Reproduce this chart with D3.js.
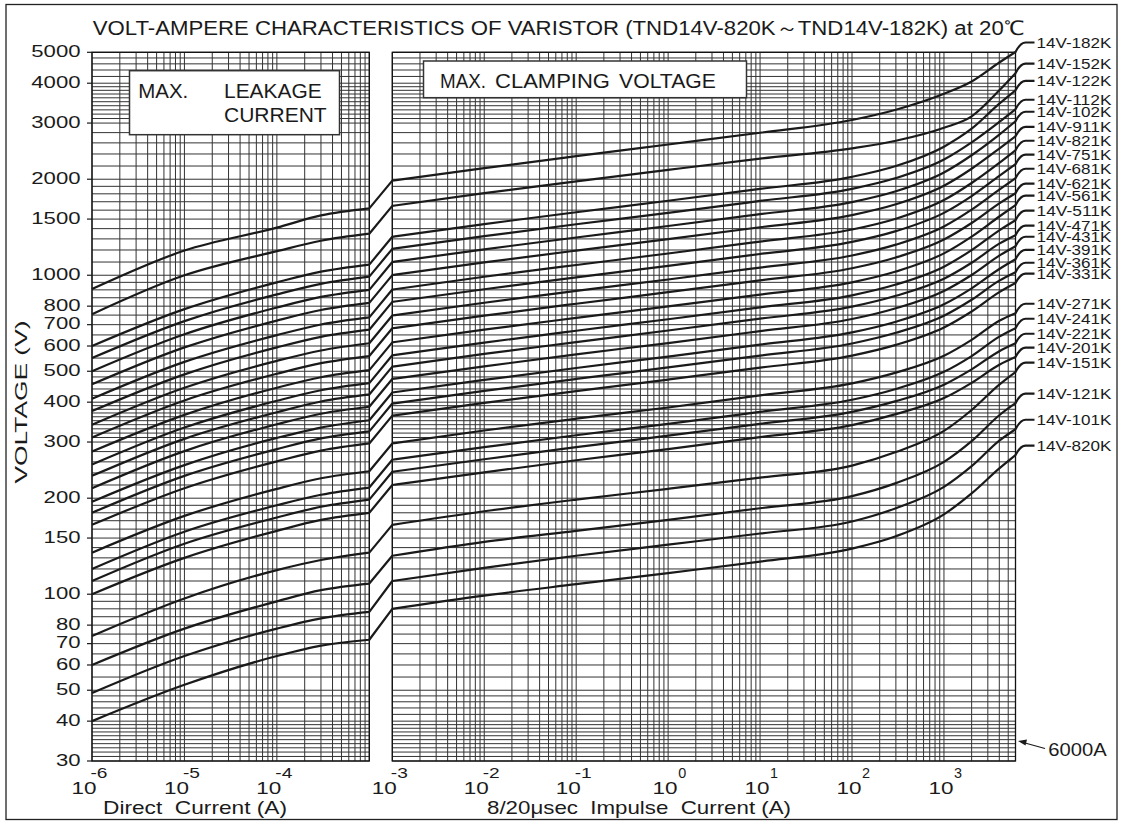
<!DOCTYPE html>
<html><head><meta charset="utf-8">
<script src="https://cdn.jsdelivr.net/npm/d3@7"></script>
<style>
html,body{margin:0;padding:0;background:#fff;}
svg{display:block;}
text{font-family:"Liberation Sans",Arial,Helvetica,sans-serif;fill:#1a1a1a;white-space:pre;}
</style></head><body>
<svg id="chart" width="1121" height="821"></svg>
<script>
// ---------------- DATA ----------------
const titleText = "VOLT-AMPERE CHARACTERISTICS OF VARISTOR (TND14V-820K\uFF5ETND14V-182K) at 20\u2103";
const yTickValues = [30,40,50,60,70,80,100,150,200,300,400,500,600,700,800,1000,1500,2000,3000,4000,5000];
const leftDecades = [-6,-5,-4];
const rightDecades = [-3,-2,-1,0,1,2,3];
const models = ["14V-820K","14V-101K","14V-121K","14V-151K","14V-201K","14V-221K","14V-241K","14V-271K",
  "14V-331K","14V-361K","14V-391K","14V-431K","14V-471K","14V-511K","14V-561K","14V-621K","14V-681K",
  "14V-751K","14V-821K","14V-911K","14V-102K","14V-112K","14V-122K","14V-152K","14V-182K"];
// Direct current (A) for the leakage curves
const leakCurrents = [1e-6, 1e-5, 1e-4, 3e-4, 1e-3];
// Max. leakage current curves: voltage (V) at each leakCurrent, one row per model
const leakage = [
  [40, 52, 64, 69, 72],
  [49, 64, 78, 84, 88],
  [60, 78, 95, 103, 108],
  [74, 97, 119, 128, 135],
  [100, 130, 158, 171, 180],
  [110, 144, 174, 188, 198],
  [120, 157, 190, 205, 216],
  [135, 176, 214, 231, 243],
  [165, 215, 261, 282, 297],
  [180, 235, 285, 308, 324],
  [195, 254, 309, 333, 351],
  [215, 281, 341, 368, 387],
  [235, 307, 372, 402, 423],
  [255, 333, 404, 436, 459],
  [280, 365, 444, 479, 504],
  [310, 405, 491, 530, 558],
  [340, 444, 539, 581, 612],
  [375, 489, 594, 641, 675],
  [410, 535, 649, 701, 738],
  [455, 594, 721, 778, 819],
  [500, 653, 792, 855, 900],
  [550, 718, 871, 940, 990],
  [600, 783, 950, 1026, 1080],
  [755, 1000, 1190, 1283, 1350],
  [905, 1195, 1410, 1540, 1620]
];
// 8/20us impulse current (A) for the clamping curves
const clampCurrents = [1e-3, 1e-2, 1e-1, 1, 10, 100, 300, 1000, 2000, 4000, 6000];
// Max. clamping voltage curves: voltage (V) at each clampCurrent, one row per model
const clamping = [
  [90, 99, 107.5, 116.5, 126.5, 139, 152, 178, 207, 248, 273],
  [110, 121, 132, 143, 155, 169, 186, 217, 252, 303, 329],
  [132, 146, 158, 171, 186, 203, 223, 260, 302, 364, 397],
  [165, 182, 198, 214, 232, 253, 279, 325, 378, 454, 497],
  [220, 241, 263, 285, 311, 339, 367, 412, 460, 524, 554],
  [242, 265, 289, 314, 342, 373, 403, 454, 507, 578, 612],
  [264, 289, 315, 342, 373, 407, 440, 498, 558, 642, 682],
  [297, 326, 355, 385, 420, 458, 495, 559, 627, 720, 760],
  [363, 398, 433, 471, 513, 560, 605, 686, 770, 885, 945],
  [396, 434, 473, 514, 560, 611, 660, 747, 838, 962, 1022],
  [429, 470, 512, 556, 606, 662, 715, 811, 910, 1046, 1122],
  [473, 518, 565, 613, 668, 729, 788, 893, 1002, 1152, 1233],
  [517, 567, 617, 671, 731, 797, 862, 975, 1094, 1256, 1335],
  [561, 615, 670, 728, 793, 865, 935, 1064, 1199, 1383, 1488],
  [616, 675, 735, 799, 870, 950, 1027, 1171, 1322, 1528, 1658],
  [682, 747, 814, 885, 964, 1052, 1137, 1294, 1458, 1680, 1808],
  [748, 820, 893, 970, 1057, 1153, 1247, 1422, 1605, 1855, 2014],
  [825, 904, 985, 1070, 1166, 1272, 1375, 1569, 1771, 2048, 2229],
  [902, 989, 1077, 1170, 1275, 1391, 1504, 1721, 1946, 2250, 2465],
  [1001, 1097, 1195, 1298, 1414, 1544, 1669, 1908, 2157, 2495, 2727],
  [1100, 1206, 1313, 1427, 1554, 1696, 1834, 2100, 2378, 2760, 3040],
  [1210, 1326, 1445, 1569, 1710, 1866, 2017, 2306, 2610, 3025, 3315],
  [1320, 1447, 1576, 1712, 1865, 2035, 2200, 2530, 2880, 3450, 3800],
  [1650, 1808, 1970, 2140, 2320, 2500, 2640, 2900, 3150, 3800, 4300],
  [1980, 2167, 2362, 2570, 2797, 3067, 3302, 3705, 4050, 4645, 5010]
];

// ---------------- LAYOUT ----------------
const svg = d3.select("#chart");
const yTop = 52.3, yBot = 761;
const y = d3.scaleLog().domain([30, 5000]).range([yBot, yTop]);
const xL = d3.scaleLog().domain([1e-6, 1e-3]).range([92, 369.3]);
const xR = d3.scaleLog().domain([1e-3, 6000]).range([392.3, 1015.5]);
const ink = "#1a1a1a";

// outer frame
svg.append("rect").attr("x", 6).attr("y", 4.5).attr("width", 1111).attr("height", 815)
  .attr("fill", "none").attr("stroke", "#222").attr("stroke-width", 1.3);

// horizontal grid values (log paper)
const hGrid = [];
[10, 100, 1000].forEach(dec => {
  const ks = [];
  for (let k = 10; k < 20; k++) ks.push(k);
  for (let k = 20; k < 30; k += 2) ks.push(k);
  for (let k = 30; k < 40; k++) ks.push(k);
  for (let k = 40; k < 50; k += 2) ks.push(k);
  for (let k = 50; k <= 100; k += 5) ks.push(k);
  ks.forEach(k => { const v = k * dec / 10; if (v >= 30 && v <= 5000 && !hGrid.includes(v)) hGrid.push(v); });
});
function vGrid(a, b) {
  const out = [];
  for (let e = Math.floor(Math.log10(a)); e <= Math.ceil(Math.log10(b)); e++) {
    for (let k = 1; k <= 9; k++) {
      const v = k * Math.pow(10, e);
      if (v >= a * 0.999 && v <= b * 1.001) out.push(v);
    }
  }
  return out;
}

function drawPanel(x) {
  const [x0, x1] = x.range();
  const g = svg.append("g");
  g.selectAll("line.h").data(hGrid).enter().append("line")
    .attr("x1", x0).attr("x2", x1).attr("y1", d => y(d)).attr("y2", d => y(d))
    .attr("stroke", "#333").attr("stroke-width", 1);
  const [a, b] = x.domain();
  g.selectAll("line.v").data(vGrid(a, b)).enter().append("line")
    .attr("x1", d => x(d)).attr("x2", d => x(d)).attr("y1", yTop).attr("y2", yBot)
    .attr("stroke", "#333").attr("stroke-width", 1);
  g.append("rect").attr("x", x0).attr("y", yTop).attr("width", x1 - x0).attr("height", yBot - yTop)
    .attr("fill", "none").attr("stroke", "#111").attr("stroke-width", 1.3);
}
drawPanel(xL);
drawPanel(xR);

// y ticks and labels
const yAxisG = svg.append("g");
yTickValues.forEach(v => {
  yAxisG.append("line").attr("x1", 87).attr("x2", 92).attr("y1", y(v)).attr("y2", y(v))
    .attr("stroke", ink).attr("stroke-width", 1.2);
  const s = String(v);
  yAxisG.append("text").attr("x", 80.5).attr("y", y(v) + 4.6).attr("text-anchor", "end")
    .attr("font-size", 17).attr("textLength", s.length * 12.3).attr("lengthAdjust", "spacingAndGlyphs").text(s);
});

// x decade labels
function decadeLabels(x, decs) {
  decs.forEach(e => {
    const g0 = x(Math.pow(10, e));
    const dx = e < 0 ? -8 : -3;
    const cx = g0 + dx;
    svg.append("text").attr("x", cx).attr("y", 794).attr("text-anchor", "middle")
      .attr("font-size", 17).attr("textLength", 25).attr("lengthAdjust", "spacingAndGlyphs").text("10");
    const ex = e < 0 ? cx + 12.5 - 6 : cx + 13;
    const es = e < 0 ? "-" + Math.abs(e) : String(e);
    svg.append("text").attr("x", ex).attr("y", 778).attr("text-anchor", "start")
      .attr("font-size", 15).attr("textLength", e < 0 ? 17 : 8).attr("lengthAdjust", "spacingAndGlyphs").text(es);
  });
}
decadeLabels(xL, leftDecades);
decadeLabels(xR, rightDecades);

function label(str, x, yb, size, len, anchor) {
  const t = svg.append("text").attr("x", x).attr("y", yb).attr("font-size", size)
    .attr("text-anchor", anchor || "start").text(str);
  if (len) t.attr("textLength", len).attr("lengthAdjust", "spacingAndGlyphs");
  return t;
}
// titles
label(titleText, 92.7, 35, 20, 931);
label("Direct  Current (A)", 103, 813.5, 19, 184);
label("8/20\u03BCsec  Impulse  Current (A)", 487, 813.5, 19, 304);
svg.append("text").attr("transform", "translate(27,402) rotate(-90)").attr("text-anchor", "middle")
  .attr("font-size", 17).attr("textLength", 163).attr("lengthAdjust", "spacingAndGlyphs").text("VOLTAGE (V)");

// legend boxes
svg.append("rect").attr("x", 129.5).attr("y", 70.7).attr("width", 210).attr("height", 64)
  .attr("fill", "#fff").attr("stroke", "#333").attr("stroke-width", 1.5);
label("MAX.", 138.3, 97.7, 20, 50);
label("LEAKAGE", 224, 97.7, 20, 97.7);
label("CURRENT", 224, 122, 20, 102.7);
svg.append("rect").attr("x", 423.5).attr("y", 61).attr("width", 323).attr("height", 36.7)
  .attr("fill", "#fff").attr("stroke", "#333").attr("stroke-width", 1.5);
label("MAX.", 440, 88, 20, 46);
label("CLAMPING", 495, 88, 20, 115);
label("VOLTAGE", 619, 88, 20, 97);

// curves
const lineL = d3.line().x(d => xL(d[0])).y(d => y(d[1])).curve(d3.curveMonotoneX);
const lineR = d3.line().x(d => xR(d[0])).y(d => y(d[1])).curve(d3.curveMonotoneX);
const xEdge = xR.range()[1];
// label positions derived from curve ends, then de-overlapped
const ends = clamping.map(r => y(r[r.length - 1]));
const labelYs = ends.map(v => v - 9.5);
for (let i = labelYs.length - 2; i >= 0; i--) {
  if (labelYs[i] - labelYs[i + 1] < 10.5) labelYs[i] = labelYs[i + 1] + 10.5;
}
for (let i = 1; i < labelYs.length; i++) {
  if (labelYs[i - 1] - labelYs[i] < 10.5) labelYs[i] = labelYs[i - 1] - 10.5;
}
const curvesG = svg.append("g");
models.forEach((m, i) => {
  const lp = leakCurrents.map((c, j) => [c, leakage[i][j]]);
  const cp = clampCurrents.map((c, j) => [c, clamping[i][j]]);
  const ly = labelYs[i];
  const p = lineL(lp) + "L" + lineR(cp).slice(1) +
    "Q" + (xEdge + 5) + "," + ly + " " + (xEdge + 10) + "," + ly + "H" + (xEdge + 19);
  curvesG.append("path").attr("d", p).attr("fill", "none").attr("stroke", ink)
    .attr("stroke-width", 2.2).attr("stroke-linejoin", "round");
  label(m, 1036.5, ly + 5, 14.5, 75);
});

// 6000A marker
svg.append("line").attr("x1", 1045).attr("y1", 748.5).attr("x2", 1025).attr("y2", 743)
  .attr("stroke", ink).attr("stroke-width", 1.2);
svg.append("path").attr("d", "M1018,741 L1027,739.5 L1025.5,745.5 Z").attr("fill", ink);
label("6000A", 1048.3, 756, 18, 58.4);
</script>
</body></html>
